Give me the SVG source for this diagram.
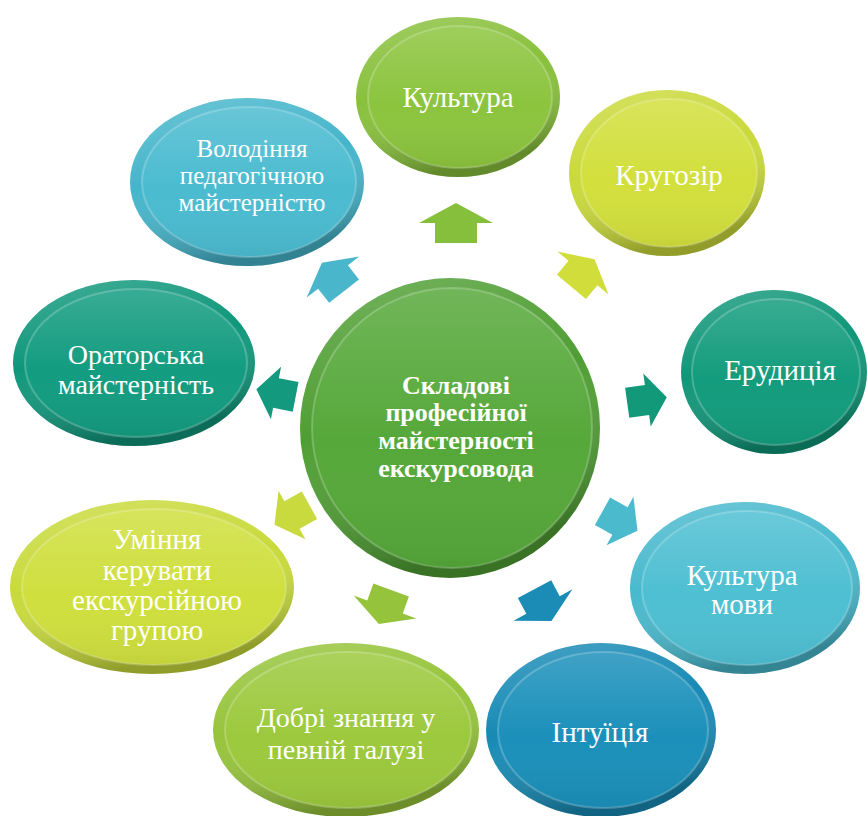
<svg xmlns="http://www.w3.org/2000/svg" width="867" height="816" viewBox="0 0 867 816">
<defs>
<linearGradient id="rimShade" x1="0" y1="0" x2="0.3" y2="1">
<stop offset="0" stop-color="#fff" stop-opacity="0.22"/>
<stop offset="0.5" stop-color="#fff" stop-opacity="0"/>
<stop offset="1" stop-color="#000" stop-opacity="0.28"/>
</linearGradient>
<linearGradient id="faceShade" x1="0" y1="0" x2="0" y2="1">
<stop offset="0" stop-color="#fff" stop-opacity="0.16"/>
<stop offset="0.55" stop-color="#fff" stop-opacity="0"/>
<stop offset="1" stop-color="#000" stop-opacity="0.06"/>
</linearGradient>
<path id="arr" d="M0,-20 L37,0 L21,0 L21,20 L-21,20 L-21,0 L-37,0 Z"/>
</defs>
<style>
.shade{fill:url(#rimShade)}
.face{stroke:#fff;stroke-opacity:0.22;stroke-width:2}
.fshade{fill:url(#faceShade)}
text{font-family:"Liberation Serif","Times New Roman",serif;fill:#fff;text-anchor:middle}
.lbl{font-size:29px}
.ctr{font-size:26px;font-weight:bold}
</style>
<rect width="867" height="816" fill="#fff"/>

<g id="connectors">
<use href="#arr" fill="#86bf3c" transform="translate(456,223)"/>
<use href="#arr" fill="#d0dd3a" transform="translate(583,273) rotate(40) scale(0.9)"/>
<use href="#arr" fill="#12997a" transform="translate(647,400) rotate(82) scale(0.72,1)"/>
<use href="#arr" fill="#4bbacd" transform="translate(620,521) rotate(119) scale(0.75,1)"/>
<use href="#arr" fill="#1a8cb5" transform="translate(543,605) rotate(152) scale(0.9)"/>
<use href="#arr" fill="#96c33c" transform="translate(385,607) rotate(200) scale(0.9)"/>
<use href="#arr" fill="#c9da3e" transform="translate(292,515) rotate(241) scale(0.75,1)"/>
<use href="#arr" fill="#139a7e" transform="translate(276,393) rotate(281) scale(0.72,1)"/>
<use href="#arr" fill="#4ab6cb" transform="translate(333,277) rotate(322) scale(0.9)"/>
</g>

<g id="center">
<circle cx="450" cy="428" r="150" fill="#4f9e33"/>
<circle cx="450" cy="428" r="150" class="shade"/>
<circle cx="452" cy="428" r="140" fill="#56a83a" class="face"/>
<circle cx="452" cy="428" r="140" class="fshade"/>
<text class="ctr" x="456" y="394">Складові</text>
<text class="ctr" x="456" y="421">професійної</text>
<text class="ctr" x="456" y="449">майстерності</text>
<text class="ctr" x="456" y="477">екскурсовода</text>
</g>

<g id="n-kultura">
<ellipse cx="458" cy="97" rx="102" ry="80" fill="#88c03b"/>
<ellipse cx="458" cy="97" rx="102" ry="80" class="shade"/>
<ellipse cx="460" cy="97" rx="92" ry="71" fill="#8cc43e" class="face"/>
<ellipse cx="460" cy="97" rx="92" ry="71" class="fshade"/>
<text class="lbl" x="458" y="107">Культура</text>
</g>

<g id="n-krugozir">
<ellipse cx="667" cy="173" rx="98" ry="83" fill="#cad93a"/>
<ellipse cx="667" cy="173" rx="98" ry="83" class="shade"/>
<ellipse cx="669" cy="173" rx="88" ry="74" fill="#d2df3c" class="face"/>
<ellipse cx="669" cy="173" rx="88" ry="74" class="fshade"/>
<text class="lbl" x="669" y="185">Кругозір</text>
</g>

<g id="n-erudytsiya">
<ellipse cx="774" cy="372" rx="93" ry="82" fill="#0f9678"/>
<ellipse cx="774" cy="372" rx="93" ry="82" class="shade"/>
<ellipse cx="776" cy="372" rx="84" ry="73" fill="#139c7d" class="face"/>
<ellipse cx="776" cy="372" rx="84" ry="73" class="fshade"/>
<text class="lbl" x="780" y="380">Ерудиція</text>
</g>

<g id="n-kultura-movy">
<ellipse cx="745" cy="588" rx="115" ry="86" fill="#48b9cd"/>
<ellipse cx="745" cy="588" rx="115" ry="86" class="shade"/>
<ellipse cx="747" cy="588" rx="105" ry="77" fill="#4ebfd2" class="face"/>
<ellipse cx="747" cy="588" rx="105" ry="77" class="fshade"/>
<text class="lbl" x="742" y="585">Культура</text>
<text class="lbl" x="742" y="614">мови</text>
</g>

<g id="n-intuitsiya">
<ellipse cx="601" cy="730" rx="115" ry="87" fill="#178ab5"/>
<ellipse cx="601" cy="730" rx="115" ry="87" class="shade"/>
<ellipse cx="603" cy="730" rx="105" ry="78" fill="#1b90ba" class="face"/>
<ellipse cx="603" cy="730" rx="105" ry="78" class="fshade"/>
<text class="lbl" x="600" y="742">Інтуїція</text>
</g>

<g id="n-dobri-znannya">
<ellipse cx="346" cy="730" rx="133" ry="87" fill="#96c43a"/>
<ellipse cx="346" cy="730" rx="133" ry="87" class="shade"/>
<ellipse cx="348" cy="730" rx="123" ry="78" fill="#9cc93d" class="face"/>
<ellipse cx="348" cy="730" rx="123" ry="78" class="fshade"/>
<text class="lbl" x="346" y="727" style="font-size:28px">Добрі знання у</text>
<text class="lbl" x="346" y="759" style="font-size:28px">певній галузі</text>
</g>

<g id="n-uminnya">
<ellipse cx="152" cy="587" rx="142" ry="87" fill="#c8da3b"/>
<ellipse cx="152" cy="587" rx="142" ry="87" class="shade"/>
<ellipse cx="154" cy="587" rx="132" ry="78" fill="#cfdf3e" class="face"/>
<ellipse cx="154" cy="587" rx="132" ry="78" class="fshade"/>
<text class="lbl" x="157" y="549">Уміння</text>
<text class="lbl" x="157" y="580">керувати</text>
<text class="lbl" x="157" y="610">екскурсійною</text>
<text class="lbl" x="157" y="640">групою</text>
</g>

<g id="n-oratorska">
<ellipse cx="134" cy="363" rx="121" ry="83" fill="#0f977b"/>
<ellipse cx="134" cy="363" rx="121" ry="83" class="shade"/>
<ellipse cx="136" cy="363" rx="111" ry="74" fill="#139c80" class="face"/>
<ellipse cx="136" cy="363" rx="111" ry="74" class="fshade"/>
<text class="lbl" x="136" y="364" style="font-size:28px">Ораторська</text>
<text class="lbl" x="136" y="394" style="font-size:28px">майстерність</text>
</g>

<g id="n-volodinnya">
<ellipse cx="247" cy="182" rx="117" ry="84" fill="#45b5cb"/>
<ellipse cx="247" cy="182" rx="117" ry="84" class="shade"/>
<ellipse cx="249" cy="182" rx="107" ry="75" fill="#4bbbd0" class="face"/>
<ellipse cx="249" cy="182" rx="107" ry="75" class="fshade"/>
<text class="lbl" x="252" y="157" style="font-size:25px">Володіння</text>
<text class="lbl" x="252" y="184" style="font-size:25px">педагогічною</text>
<text class="lbl" x="252" y="211" style="font-size:25px">майстерністю</text>
</g>
</svg>
